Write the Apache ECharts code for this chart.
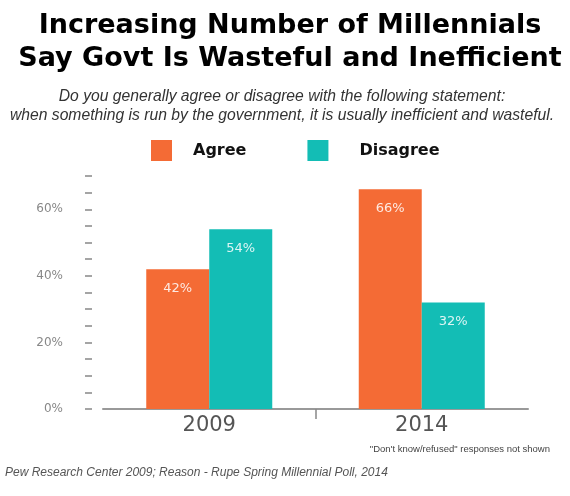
<!DOCTYPE html>
<html>
<head>
<meta charset="utf-8">
<script src="https://cdn.jsdelivr.net/npm/echarts@6/dist/echarts.min.js"></script>
<style>html,body{margin:0;padding:0;background:#fff;}#chart{width:570px;height:496px;}</style>
</head>
<body>
<div id="chart"></div>
<script>
const categories = ['2009', '2014'];
const agreeValues = [42, 66];
const disagreeValues = [54, 32];
const seriesNames = ['Agree', 'Disagree'];
const yTickLabels = [0, 20, 40, 60];

const chart = echarts.init(document.getElementById('chart'));
const ORANGE = '#F46B35';
const TEAL = '#13BDB5';
const barLabel = {
  show: true, position: 'insideTop', distance: 13,
  color: 'rgba(255,255,255,0.85)', fontSize: 13, fontFamily: 'DejaVu Sans',
  formatter: p => p.value + '%'
};
chart.setOption({
  animation: false,
  title: [
    {
      text: 'Increasing Number of Millennials\nSay Govt Is Wasteful and Inefficient',
      left: 285, top: 4, textAlign: 'center',
      textStyle: { fontFamily: 'DejaVu Sans', fontWeight: 'bold', fontSize: 27, lineHeight: 33, color: '#000' }
    },
    {
      text: 'Do you generally agree or disagree with the following statement:\nwhen something is run by the government, it is usually inefficient and wasteful.',
      left: 277, top: 82, textAlign: 'center',
      textStyle: { fontFamily: 'Liberation Sans', fontStyle: 'italic', fontWeight: 'normal', fontSize: 15.7, lineHeight: 19, color: '#333' }
    },
    {
      text: '"Don\'t know/refused" responses not shown',
      right: 15, top: 439,
      textStyle: { fontFamily: 'Liberation Sans', fontWeight: 'normal', fontSize: 9.5, color: '#444' }
    },
    {
      text: 'Pew Research Center 2009; Reason - Rupe Spring Millennial Poll, 2014',
      left: 0, top: 462,
      textStyle: { fontFamily: 'Liberation Sans', fontStyle: 'italic', fontWeight: 'normal', fontSize: 12, color: '#555' }
    }
  ],
  legend: {
    data: [
      { name: seriesNames[0] },
      { name: seriesNames[1], textStyle: { padding: [0, 0, 0, 26] } }
    ],
    left: 146, top: 135,
    icon: 'rect', itemWidth: 21, itemHeight: 21, itemGap: 61,
    textStyle: { fontFamily: 'DejaVu Sans', fontWeight: 'bold', fontSize: 16, color: '#111', padding: [0, 0, 0, 16] }
  },
  grid: { left: 103, right: 42, top: 176, bottom: 87, containLabel: false },
  xAxis: [
    {
      type: 'category', data: categories,
      axisLine: { lineStyle: { color: '#999', width: 2 } },
      axisTick: { show: false },
      axisLabel: { fontFamily: 'DejaVu Sans', fontSize: 21, color: '#555', margin: 6 }
    },
    {
      type: 'category', data: ['', '', ''], boundaryGap: false, position: 'bottom',
      axisLine: { show: false },
      axisLabel: { show: false },
      axisTick: { show: true, length: 10, interval: i => i === 1, lineStyle: { color: '#888', width: 1.5 } }
    }
  ],
  yAxis: {
    type: 'value', min: 0, max: 70, interval: 5, offset: 11,
    axisLine: { show: false },
    axisTick: { show: true, length: 7, inside: false, lineStyle: { color: '#888', width: 1.5 } },
    splitLine: { show: false },
    axisLabel: {
      margin: 29, fontFamily: 'DejaVu Sans', fontSize: 12, color: '#888',
      formatter: v => yTickLabels.includes(v) ? v + '%' : ''
    }
  },
  series: [
    { name: seriesNames[0], type: 'bar', xAxisIndex: 0, data: agreeValues, barWidth: 63, barGap: '0%', itemStyle: { color: ORANGE }, label: barLabel },
    { name: seriesNames[1], type: 'bar', xAxisIndex: 0, data: disagreeValues, barWidth: 63, barGap: '0%', itemStyle: { color: TEAL }, label: barLabel }
  ]
});
</script>
</body>
</html>
